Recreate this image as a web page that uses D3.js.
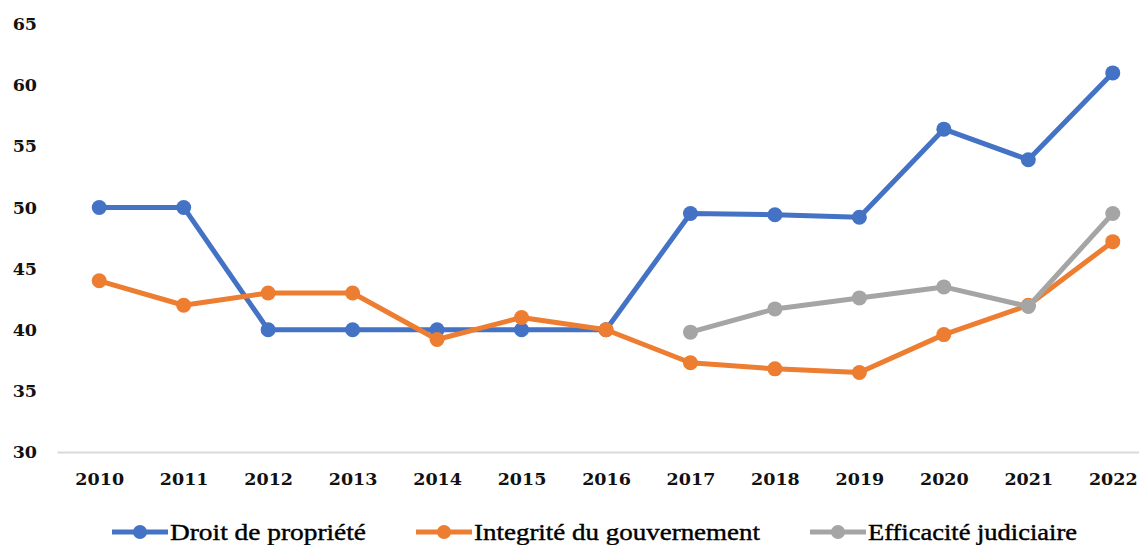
<!DOCTYPE html>
<html>
<head>
<meta charset="utf-8">
<script src="https://cdn.jsdelivr.net/npm/d3@7"></script>
<style>
  html, body { margin: 0; padding: 0; background: #fff; }
  svg { display: block; }
</style>
</head>
<body>
<svg id="chart" width="1139" height="545"></svg>
<script>
// Indicator scores per year
const years = ["2010","2011","2012","2013","2014","2015","2016","2017","2018","2019","2020","2021","2022"];
const droitPropriete = [50, 50, 40, 40, 40, 40, 40, 49.5, 49.4, 49.2, 56.4, 53.9, 61.0];
const integriteGouv = [44, 42, 43, 43, 39.2, 41, 40, 37.3, 36.8, 36.5, 39.6, 42.0, 47.2];
const efficaciteJud = [null, null, null, null, null, null, null, 39.8, 41.7, 42.6, 43.5, 41.9, 49.5];
const yTicks = [30, 35, 40, 45, 50, 55, 60, 65];

const seriesNames = ["Droit de propriété", "Integrité du gouvernement", "Efficacité judiciaire"];
const seriesColors = ["#4472C4", "#ED7D31", "#A5A5A5"];
const seriesValues = [droitPropriete, integriteGouv, efficaciteJud];

const svg = d3.select("#chart");

const x = d3.scalePoint().domain(years).range([57, 1155]).padding(0.5);
const y = d3.scaleLinear().domain([30, 65]).range([452, 24]);

// Y axis labels
const yAxis = svg.append("g")
  .attr("transform", "translate(46,0)")
  .call(d3.axisLeft(y).tickValues(yTicks).tickSize(0).tickPadding(9));
yAxis.select(".domain").remove();
yAxis.selectAll("text")
  .attr("font-family", "DejaVu Serif")
  .attr("font-weight", "bold")
  .attr("font-size", 17.5)
  .attr("fill", "#111");

// X axis with light baseline
const xAxis = svg.append("g")
  .attr("transform", "translate(0,452)")
  .call(d3.axisBottom(x).tickSize(0).tickPadding(21));
xAxis.select(".domain").attr("stroke", "#d9d9d9").attr("stroke-width", 2);
xAxis.selectAll("text")
  .attr("font-family", "DejaVu Serif")
  .attr("font-weight", "bold")
  .attr("font-size", 17.5)
  .attr("fill", "#111");

// Lines and markers
const line = d3.line()
  .defined(d => d.v != null)
  .x(d => x(d.year))
  .y(d => y(d.v));

seriesValues.forEach((vals, i) => {
  const pts = years.map((yr, j) => ({ year: yr, v: vals[j] }));
  const g = svg.append("g");
  g.append("path")
    .datum(pts)
    .attr("fill", "none")
    .attr("stroke", seriesColors[i])
    .attr("stroke-width", 5)
    .attr("stroke-linejoin", "round")
    .attr("d", line);
  g.selectAll("circle")
    .data(pts.filter(d => d.v != null))
    .join("circle")
    .attr("cx", d => x(d.year))
    .attr("cy", d => y(d.v))
    .attr("r", 7.5)
    .attr("fill", seriesColors[i]);
});

// Legend
const legendItems = [
  { x0: 112, tx: 170, tw: 196 },
  { x0: 416, tx: 474, tw: 286 },
  { x0: 810, tx: 868, tw: 209 }
];
const ly = 532;
legendItems.forEach((it, i) => {
  const g = svg.append("g");
  g.append("line")
    .attr("x1", it.x0).attr("x2", it.x0 + 56)
    .attr("y1", ly).attr("y2", ly)
    .attr("stroke", seriesColors[i]).attr("stroke-width", 5);
  g.append("circle")
    .attr("cx", it.x0 + 28).attr("cy", ly).attr("r", 7)
    .attr("fill", seriesColors[i]);
  g.append("text")
    .attr("x", it.tx).attr("y", ly + 7.5)
    .attr("font-family", "Liberation Serif")
    .attr("font-size", 23)
    .attr("fill", "#000")
    .attr("stroke", "#000")
    .attr("stroke-width", 0.4)
    .attr("textLength", it.tw)
    .attr("lengthAdjust", "spacingAndGlyphs")
    .text(seriesNames[i]);
});
</script>
</body>
</html>
